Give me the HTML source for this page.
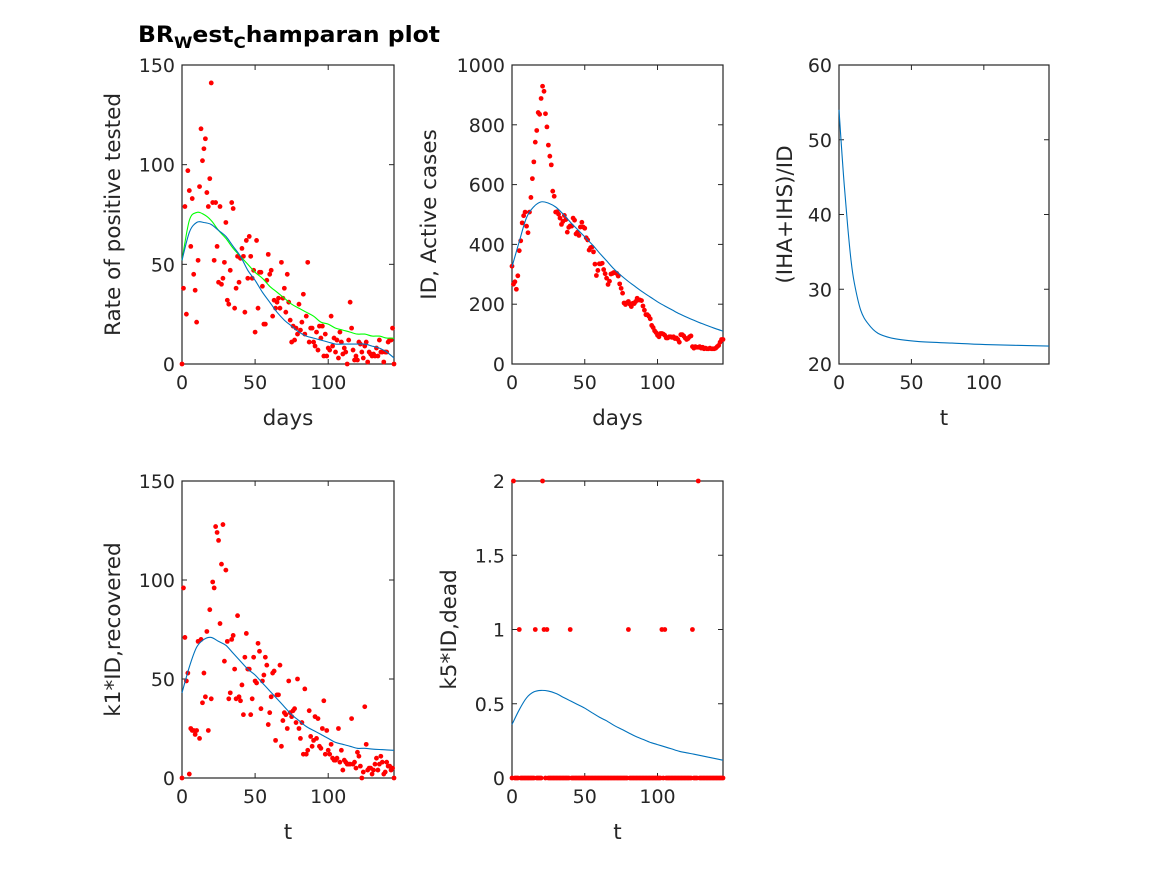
<!DOCTYPE html>
<html><head><meta charset="utf-8"><style>
body{margin:0;background:#fff;}
svg{display:block;font-family:"DejaVu Sans","Liberation Sans",sans-serif;}
</style></head><body>
<svg id="fig" width="1167" height="875" viewBox="0 0 1167 875" xmlns="http://www.w3.org/2000/svg">
<rect width="1167" height="875" fill="#fff"/>
<text x="138" y="42" font-size="22.5" font-weight="bold" fill="#000" textLength="302" lengthAdjust="spacingAndGlyphs">BR<tspan font-size="16" dy="6">W</tspan><tspan dy="-6">est</tspan><tspan font-size="16" dy="6">C</tspan><tspan dy="-6">hamparan plot</tspan></text>
</svg>
<script>
// ---- data ----
const days = 145;
const p1Rate = [0,38,79,25,97,87,59,83,45,37,21,52,89,118,102,108,113,86,79,93,141,81,52,81,59,41,79,40,43,51,71,32,30,47,81,78,28,38,54,41,53,58,54,26,62,43,64,54,43,47,16,62,28,46,46,39,20,20,42,55,45,47,24,32,28,31,33,28,51,33,38,26,45,31,22,11,19,12,18,15,30,17,21,35,15,24,51,11,18,18,11,9,16,7,19,13,19,4,15,4,8,7,24,9,13,6,12,3,16,11,5,8,6,0,12,31,18,7,2,4,2,11,10,6,3,9,11,1,6,5,4,5,4,8,4,12,6,6,1,6,6,11,12,12,18,0];
const fitT = [0,5,10,15,20,25,30,35,40,45,50,55,60,65,70,75,80,85,90,95,100,105,110,115,120,125,130,135,140,145];
const p1Blue = [52,66,71,71,70,67,64,59,54,47,42,36,31,26,22,19,16,14,13,12,11,10,10,10,10,10,9,8,6,3];
const p1Green = [52,72,76,75,72,67,63,58,54,50,46,43,39,36,33,30,28,26,24,21,20,18,17,16,15,15,14,14,13,13];
const p2Active = [327,267,275,250,295,379,412,472,496,508,461,439,508,557,620,676,742,781,841,835,888,929,912,837,793,732,695,666,578,561,508,509,501,488,467,477,497,483,441,457,462,461,488,481,435,441,430,458,474,458,454,422,415,381,389,391,375,334,296,313,335,335,337,316,302,287,266,277,301,303,306,305,303,294,268,253,237,204,199,205,209,200,192,203,202,209,220,214,214,212,194,180,165,165,160,151,129,122,111,105,96,91,102,102,100,96,87,87,91,91,89,91,85,87,82,73,98,98,94,87,82,85,91,94,58,53,58,56,56,58,53,56,51,53,51,51,53,51,51,51,53,58,62,73,82,82];
const p2Blue = [325,410,490,526,542,538,525,502,475,450,425,400,372,345,318,296,276,258,240,224,208,194,181,168,157,146,136,127,118,110];
const p3T = [0,1.4,3.7,6,8.3,10.6,15,20,27,38,55,78,101,145];
const p3Ratio = [54,50,43.7,38.4,33.9,30.8,27.2,25.4,24.1,23.4,23.0,22.8,22.6,22.4];
const p4Recovered = [0,96,71,49,53,2,25,24,24,22,24,69,20,70,38,53,41,74,24,85,40,99,96,127,124,120,78,108,128,59,105,69,40,43,70,72,55,40,82,41,39,47,32,61,73,55,55,32,40,61,49,48,68,64,35,49,52,61,57,27,33,41,53,54,19,42,42,57,16,29,33,32,25,49,33,31,34,35,28,50,25,20,28,12,45,12,14,34,21,16,19,31,20,30,16,15,25,39,12,24,14,12,17,10,9,9,10,25,8,14,4,9,8,7,7,7,30,7,8,5,13,11,6,0,3,36,17,4,5,5,2,4,7,10,4,7,11,8,2,3,8,6,6,4,5,0];
const p4Blue = [43,56,66,70,71,69,67,63,59,55,52,48,44,40,36,32,29,26,24,22,20,18,17,16,15,15,14.6,14.4,14.2,14];
const p5TwoDays = [1,21,128];
const p5OneDays = [5,16,22,24,40,80,103,105,124];
const p5Blue = [0.36,0.46,0.54,0.58,0.59,0.585,0.57,0.545,0.52,0.495,0.47,0.44,0.41,0.385,0.355,0.33,0.305,0.28,0.26,0.24,0.225,0.21,0.195,0.18,0.17,0.16,0.15,0.14,0.13,0.12];
const xTicks = [0,50,100];
const p1YTicks = [0,50,100,150];
const p2YTicks = [0,200,400,600,800,1000];
const p3YTicks = [20,30,40,50,60];
const p4YTicks = [0,50,100,150];
const p5YTicks = [0,0.5,1,1.5,2];

const NS = "http://www.w3.org/2000/svg";
const svg = document.getElementById('fig');
function mk(tag, attrs, parent){
  const e = document.createElementNS(NS, tag);
  for (const k in attrs) e.setAttribute(k, attrs[k]);
  (parent||svg).appendChild(e);
  return e;
}
function axes(name, L, R, T, B, ymin, ymax, yTicks, xlabel, ylabel, ylabX){
  const g = mk('g', {});
  
  
  const sx = v => L + (v/days)*(R-L);
  const sy = v => B - (v-ymin)/(ymax-ymin)*(B-T);
  const frame = mk('rect', {x:L, y:T, width:R-L, height:B-T, fill:'#fff', stroke:'#262626', 'stroke-width':1.2}, g);
  
  
  xTicks.forEach(t => {
    const x = sx(t);
    mk('line', {x1:x, x2:x, y1:B, y2:B-5, stroke:'#262626'}, g);
    mk('line', {x1:x, x2:x, y1:T, y2:T+5, stroke:'#262626'}, g);
    const tx = mk('text', {x:x, y:B+25, 'text-anchor':'middle', 'font-size':19, fill:'#262626'}, g);
    
    
    tx.textContent = t;
  });
  yTicks.forEach(t => {
    const y = sy(t);
    mk('line', {x1:L, x2:L+5, y1:y, y2:y, stroke:'#262626'}, g);
    mk('line', {x1:R, x2:R-5, y1:y, y2:y, stroke:'#262626'}, g);
    const ty = mk('text', {x:L-7, y:y+7, 'text-anchor':'end', 'font-size':19, fill:'#262626'}, g);
    
    
    ty.textContent = t;
  });
  const xl = mk('text', {x:(L+R)/2, y:B+61, 'text-anchor':'middle', 'font-size':21.5, fill:'#262626'}, g);
  
  
  xl.textContent = xlabel;
  const yc = (T+B)/2;
  const yl = mk('text', {x:ylabX, y:yc, 'text-anchor':'middle', 'font-size':21.5, fill:'#262626', transform:`rotate(-90 ${ylabX} ${yc})`}, g);
  
  
  yl.textContent = ylabel;
  return {g, sx, sy};
}
function line(ax, xs, ys, color, name){
  const P = xs.map((x,i)=>[ax.sx(x), ax.sy(ys[i])]);
  let d = 'M'+P[0][0].toFixed(1)+' '+P[0][1].toFixed(1);
  for (let i=0;i<P.length-1;i++){
    const p0=P[Math.max(0,i-1)], p1=P[i], p2=P[i+1], p3=P[Math.min(P.length-1,i+2)];
    const c1=[p1[0]+(p2[0]-p0[0])/6, p1[1]+(p2[1]-p0[1])/6];
    const c2=[p2[0]-(p3[0]-p1[0])/6, p2[1]-(p3[1]-p1[1])/6];
    d += ' C'+c1[0].toFixed(1)+' '+c1[1].toFixed(1)+' '+c2[0].toFixed(1)+' '+c2[1].toFixed(1)+' '+p2[0].toFixed(1)+' '+p2[1].toFixed(1);
  }
  const p = mk('path', {d, fill:'none', stroke:color, 'stroke-width':1.1}, ax.g);
  
  
}
function dots(ax, xs, ys, name){
  xs.forEach((x,i)=>{
    const c = mk('circle', {cx:ax.sx(x), cy:ax.sy(ys[i]), r:2.4, fill:'#ff0000'}, ax.g);
    
    
  });
}
const idx = a => a.map((_,i)=>i);

const a1 = axes('rate-positive-plot', 182, 394, 65, 364, 0, 150, p1YTicks, 'days', 'Rate of positive tested', 120);
dots(a1, idx(p1Rate), p1Rate, 'rate-data-point');
line(a1, fitT, p1Green, '#00ff00', 'rate-fit-green');
line(a1, fitT, p1Blue, '#0072bd', 'rate-fit-blue');

const a2 = axes('active-cases-plot', 512, 723, 65, 364, 0, 1000, p2YTicks, 'days', 'ID, Active cases', 436);
dots(a2, idx(p2Active), p2Active, 'active-data-point');
line(a2, fitT, p2Blue, '#0072bd', 'active-fit');

const a3 = axes('iha-ihs-ratio-plot', 839, 1049, 65, 364, 20, 60, p3YTicks, 't', '(IHA+IHS)/ID', 792);
line(a3, p3T, p3Ratio, '#0072bd', 'ratio-curve');

const a4 = axes('recovered-plot', 182, 394, 481, 778, 0, 150, p4YTicks, 't', 'k1*ID,recovered', 120);
dots(a4, idx(p4Recovered), p4Recovered, 'recovered-data-point');
line(a4, fitT, p4Blue, '#0072bd', 'recovered-fit');

const a5 = axes('dead-plot', 512, 723, 481, 778, 0, 2, p5YTicks, 't', 'k5*ID,dead', 456);
const deadVals = [];
for (let i=0;i<=days;i++) deadVals.push(p5TwoDays.includes(i)?2:(p5OneDays.includes(i)?1:0));
line(a5, fitT, p5Blue, '#0072bd', 'dead-fit');
dots(a5, idx(deadVals), deadVals, 'dead-data-point');
</script>
</body></html>
